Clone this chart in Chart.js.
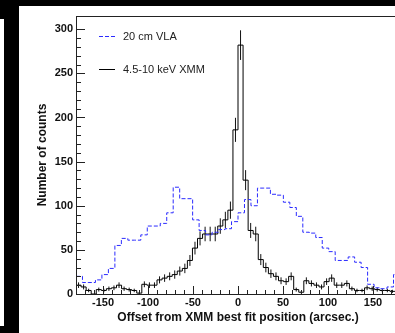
<!DOCTYPE html>
<html>
<head>
<meta charset="utf-8">
<script src="https://cdn.jsdelivr.net/npm/chart.js@4.4.1/dist/chart.umd.min.js"></script>
<style>
  html, body { margin: 0; padding: 0; }
  body { width: 395px; height: 333px; background: #000; position: relative; overflow: hidden; }
  .sheet { position: absolute; left: 19px; top: 6px; right: 0; bottom: 0; background: #fff; }
  .strip { position: absolute; left: 0; top: 19px; width: 4px; height: 307px; background: #fff; }
  .wrap { position: absolute; left: 0; top: 0; width: 420px; height: 333px; }
</style>
</head>
<body>
<div class="sheet"></div>
<div class="strip"></div>
<div class="wrap"><canvas id="chart"></canvas></div>
<script>
const X_MIN = -180;
const X_MAX = 180;
const Y_MAX = 315;
const VLA_BIN = 7.2;
const XMM_BIN = 5.625;

// counts per bin, left to right from X_MIN
const vlaCounts = [
  20, 13, 13, 16, 22, 29, 55, 63, 61, 61,
  67, 77, 77, 80, 92, 121, 108, 108, 84, 72,
  67, 70, 73, 74, 82, 92, 107, 100, 120, 120,
  113, 112, 104, 98, 88, 70, 69, 64, 52, 48,
  38, 38, 42, 36, 30, 11, 7, 6, 8, 22
];
const xmmCounts = [
  10, 8, 4, 0, 5, 4, 6, 7, 10, 6,
  5, 4, 1, 11, 10, 10, 16, 18, 20, 22,
  26, 29, 38, 52, 63, 68, 68, 68, 77, 84,
  95, 186, 282, 129, 72, 68, 39, 30, 23, 20,
  15, 14, 20, 5, 2, 15, 12, 10, 8, 14,
  18, 10, 10, 12, 6, 4, 4, 7, 6, 5,
  4, 4, 3, 3
];
const xTickLabels = [-150, -100, -50, 0, 50, 100, 150];
const yTickLabels = [0, 50, 100, 150, 200, 250, 300];
const legendLabels = ["20 cm VLA", "4.5-10 keV XMM"];

const FONT = "'Liberation Sans', Arial, sans-serif";

function histPoints(counts, bin) {
  const pts = counts.map((c, i) => ({ x: X_MIN + i * bin, y: c }));
  pts.push({ x: X_MIN + counts.length * bin, y: counts[counts.length - 1] });
  return pts;
}

// poisson error bars at bin centres, broken by null gaps
const xmmErrors = [];
xmmCounts.forEach((c, i) => {
  if (c <= 0) return;
  const mid = X_MIN + (i + 0.5) * XMM_BIN;
  const e = Math.sqrt(c);
  xmmErrors.push({ x: mid, y: c - e }, { x: mid, y: c + e }, { x: mid, y: null });
});

// inward ticks, frame and legend like the ROOT canvas
const rootFrame = {
  id: "rootFrame",
  afterDatasetsDraw(chart) {
    const { ctx, chartArea: a, scales: { x, y } } = chart;
    ctx.save();
    ctx.strokeStyle = "#222";
    ctx.lineWidth = 1;
    ctx.beginPath();
    x.ticks.forEach((t) => {
      if (t.value % 10) return;
      const px = Math.round(x.getPixelForValue(t.value)) + 0.5;
      const len = t.value % 50 === 0 ? 8 : 4;
      ctx.moveTo(px, a.bottom);
      ctx.lineTo(px, a.bottom - len);
    });
    y.ticks.forEach((t) => {
      if (t.value % 10) return;
      const py = Math.round(y.getPixelForValue(t.value)) + 0.5;
      const len = t.value % 50 === 0 ? 9 : 5;
      ctx.moveTo(a.left, py);
      ctx.lineTo(a.left + len, py);
    });
    ctx.stroke();
    ctx.strokeRect(Math.round(a.left) + 0.5, Math.round(a.top) + 0.5, a.right - a.left, a.bottom - a.top);

    ctx.font = "11px " + FONT;
    ctx.textBaseline = "middle";
    ctx.fillStyle = "#222";
    legendLabels.forEach((label, i) => {
      const ds = chart.data.datasets[i];
      const ly = Math.round(a.top + 20 + i * 33) + 0.5;
      ctx.strokeStyle = ds.borderColor;
      ctx.setLineDash(ds.borderDash || []);
      ctx.beginPath();
      ctx.moveTo(a.left + 23, ly);
      ctx.lineTo(a.left + 39, ly);
      ctx.stroke();
      ctx.setLineDash([]);
      ctx.fillText(label, a.left + 47, ly);
    });
    ctx.restore();
  }
};

new Chart(document.getElementById("chart"), {
  type: "line",
  data: {
    datasets: [
      {
        label: legendLabels[0],
        data: histPoints(vlaCounts, VLA_BIN),
        borderColor: "#2b2bff",
        borderWidth: 1,
        borderDash: [4, 2],
        stepped: "before",
        pointRadius: 0,
        fill: false
      },
      {
        label: legendLabels[1],
        data: histPoints(xmmCounts, XMM_BIN),
        borderColor: "#000",
        borderWidth: 1,
        stepped: "before",
        pointRadius: 0,
        fill: false
      },
      {
        label: "errors",
        data: xmmErrors,
        borderColor: "#111",
        borderWidth: 1,
        pointRadius: 0,
        spanGaps: false,
        fill: false
      }
    ]
  },
  options: {
    responsive: true,
    maintainAspectRatio: false,
    animation: false,
    events: [],
    layout: { padding: { left: 30, top: 16, right: 20, bottom: 2 } },
    plugins: { legend: { display: false }, tooltip: { enabled: false } },
    scales: {
      x: {
        type: "linear",
        min: X_MIN,
        max: X_MAX,
        grid: { display: false, drawTicks: false },
        border: { display: false },
        ticks: {
          stepSize: 10,
          autoSkip: false,
          maxRotation: 0,
          padding: 2,
          color: "#111",
          font: { family: FONT, size: 11, weight: "bold" },
          callback: (v) => (xTickLabels.includes(v) ? String(v) : "")
        },
        title: {
          display: true,
          text: "Offset from XMM best fit position (arcsec.)",
          color: "#111",
          font: { family: FONT, size: 12, weight: "bold" },
          padding: { top: 0, bottom: 6 }
        },
        afterFit: (s) => { s.height = 37; }
      },
      y: {
        type: "linear",
        min: 0,
        max: Y_MAX,
        grid: { display: false, drawTicks: false },
        border: { display: false },
        ticks: {
          stepSize: 10,
          autoSkip: false,
          padding: 3,
          color: "#111",
          font: { family: FONT, size: 11, weight: "bold" },
          callback: (v) => (yTickLabels.includes(v) ? String(v) : "")
        },
        title: {
          display: true,
          text: "Number of counts",
          color: "#111",
          font: { family: FONT, size: 12, weight: "bold" },
          padding: { top: 5, bottom: 0 }
        },
        afterFit: (s) => { s.width = 46; }
      }
    }
  },
  plugins: [rootFrame]
});
</script>
</body>
</html>
